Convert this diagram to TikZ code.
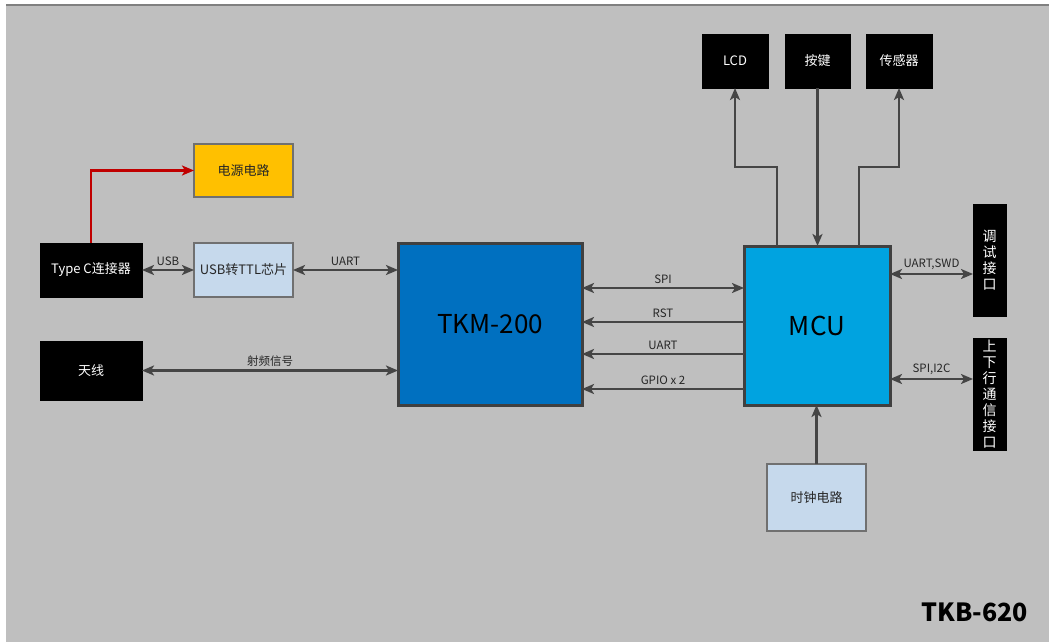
\documentclass[tikz,border=0pt]{standalone}
\usepackage{fontspec}
\setmainfont{Noto Sans CJK SC}
\usetikzlibrary{arrows.meta}
\definecolor{bgc}{HTML}{BFBFBF}
\definecolor{edgec}{HTML}{707070}
\definecolor{arrc}{HTML}{454545}
\definecolor{thickc}{HTML}{404040}
\definecolor{yel}{HTML}{FFC000}
\definecolor{lblue}{HTML}{C6D9EC}
\definecolor{tkmc}{HTML}{0070C0}
\definecolor{mcuc}{HTML}{00A3E0}
\definecolor{redc}{HTML}{C00000}
\definecolor{txtc}{HTML}{262626}
\begin{document}
\begin{tikzpicture}[x=1pt,y=-1pt,
  box/.style={rectangle, outer sep=0pt, inner sep=2pt, font=\fontsize{13}{15}\selectfont},
  blackbox/.style={box, fill=black, draw=black, text=white},
  lightbox/.style={box, fill=lblue, draw=edgec, line width=1.5pt, text=txtc},
  yelbox/.style={box, fill=yel, draw=edgec, line width=1.5pt, text=txtc},
  bigbox/.style={box, draw=thickc, line width=3pt, text=black, font=\fontsize{26}{30}\selectfont},
  vbox/.style={blackbox, align=center, font=\fontsize{14}{16}\selectfont},
  tip/.tip={Stealth[length=12pt,width=10pt,inset=3pt]},
  arr/.style={draw=arrc, line width=2.8pt, -tip},
  dbl/.style={draw=arrc, line width=2.8pt, tip-tip},
  lbl/.style={font=\fontsize{11.5}{13}\selectfont, text=txtc, inner sep=1pt, above=1.5pt}
]
\useasboundingbox (0,0) rectangle (1049,642);
\fill[white] (0,0) rectangle (1049,642);
\fill[bgc] (6,5) rectangle (1049,642);
\draw[draw=gray, line width=1.5pt] (6,5) -- (1049,5);

% nodes
\node[yelbox, minimum width=99pt, minimum height=53pt] (power) at (243.5,170.5) {电源电路};
\node[blackbox, minimum width=102pt, minimum height=54pt] (typec) at (91,270) {Type C连接器};
\node[lightbox, minimum width=99pt, minimum height=54pt] (usb) at (243.5,270) {USB转TTL芯片};
\node[blackbox, minimum width=102pt, minimum height=59pt] (ant) at (91,370.5) {天线};
\node[bigbox, fill=tkmc, minimum width=184pt, minimum height=162pt] (tkm) at (490,324) {TKM-200};
\node[bigbox, fill=mcuc, minimum width=146pt, minimum height=159pt] (mcu) at (817,325.5) {MCU};
\node[blackbox, minimum width=66pt, minimum height=54pt] (lcd) at (735,61) {LCD};
\node[blackbox, minimum width=65pt, minimum height=54pt] (key) at (817.5,61) {按键};
\node[blackbox, minimum width=66pt, minimum height=54pt] (sens) at (899,61) {传感器};
\node[vbox, minimum width=33pt, minimum height=112pt] (dbg) at (989.5,260) {调\\试\\接\\口};
\node[vbox, minimum width=33pt, minimum height=112pt] (comm) at (989.5,394) {上\\下\\行\\通\\信\\接\\口};
\node[lightbox, minimum width=99pt, minimum height=67pt] (clk) at (816.5,497.5) {时钟电路};
\node[font=\bfseries\fontsize{25}{30}\selectfont, text=black, inner sep=0pt] (title) at (975,612) {TKB-620};

% helper coordinates
\coordinate (ySPI) at (0,288);
\coordinate (yRST) at (0,322);
\coordinate (yUART) at (0,354);
\coordinate (yGPIO) at (0,389);
\coordinate (ySWD) at (0,274);
\coordinate (yI2C) at (0,379);
\coordinate (lcdj) at (777,167);
\coordinate (sensj) at (859,167);

% connectors
\draw[draw=redc, line width=2.8pt, -tip] (typec.north) |- (power.west);
\draw[dbl] (typec.east) -- node[lbl] {USB} (usb.west);
\draw[dbl] (usb.east) -- node[lbl] {UART} (usb.east -| tkm.west);
\draw[dbl] (ant.east) -- node[lbl] {射频信号} (ant.east -| tkm.west);

\draw[dbl] (tkm.east |- ySPI) -- node[lbl] {SPI} (mcu.west |- ySPI);
\draw[arr] (mcu.west |- yRST) -- node[lbl] {RST} (tkm.east |- yRST);
\draw[arr] (mcu.west |- yUART) -- node[lbl] {UART} (tkm.east |- yUART);
\draw[arr] (mcu.west |- yGPIO) -- node[lbl] {GPIO x 2} (tkm.east |- yGPIO);

\draw[dbl] (mcu.east |- ySWD) -- node[lbl] {UART,SWD} (dbg.west |- ySWD);
\draw[dbl] (mcu.east |- yI2C) -- node[lbl] {SPI,I2C} (comm.west |- yI2C);

\draw[arr] (mcu.north -| lcdj) -- (lcdj) -| (lcd.south);
\draw[arr] (key.south) -- (key.south |- mcu.north);
\draw[arr] (mcu.north -| sensj) -- (sensj) -| (sens.south);
\draw[arr] (clk.north) -- (clk.north |- mcu.south);
\end{tikzpicture}
\end{document}
